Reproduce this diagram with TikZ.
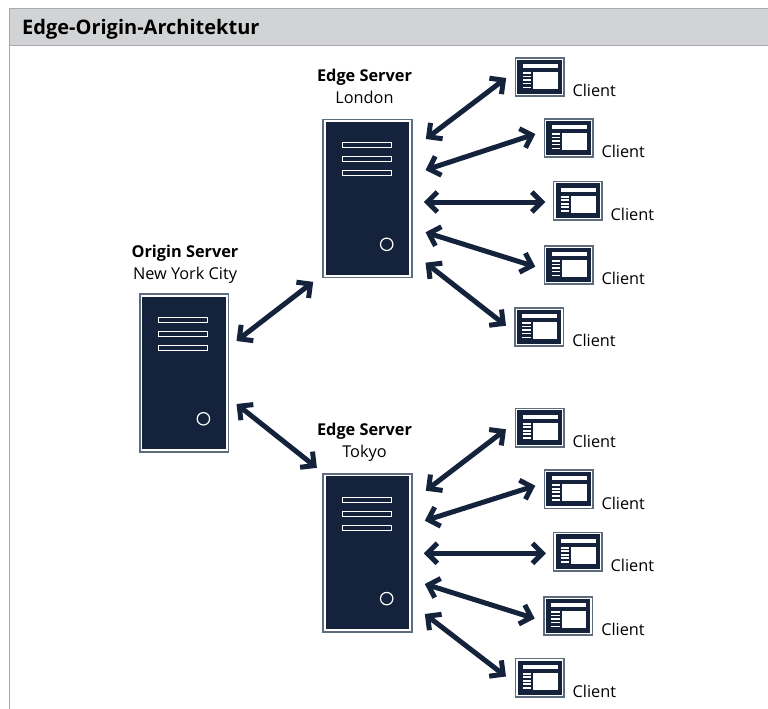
\documentclass[tikz,border=0pt]{standalone}
\usepackage{fontspec}
\setmainfont{Open Sans}
\usetikzlibrary{arrows.meta, positioning}
\definecolor{navy}{HTML}{14233B}
\definecolor{rim}{HTML}{5D6D7E}
\definecolor{headfill}{HTML}{D1D3D4}
\definecolor{headline}{HTML}{A7A9AC}
\tikzset{
	server/.style={fill=navy,draw=white,line width=1.7pt,preaction={draw=rim,line width=5.1pt},minimum width=85.2pt,minimum height=154.5pt,inner sep=0pt},
	clientbox/.style={fill=navy,draw=white,line width=1.2pt,preaction={draw=rim,line width=4.6pt},minimum width=45.4pt,minimum height=35.7pt,inner sep=0pt},
	clientname/.style={font=\fontsize{16.3}{18}\selectfont,inner sep=0pt,anchor=base west},
	place/.style={font=\fontsize{16.3}{22}\selectfont,align=center,inner sep=0pt,anchor=base},
	link/.style={navy,line width=5pt,{Straight Barb[length=10pt,width=20pt]}-{Straight Barb[length=10pt,width=20pt]}},
}
\begin{document}
\begin{tikzpicture}[x=1pt,y=-1pt]
	\def\serverbox#1#2{
		\node[server] at (#2) (#1){};
		\begin{scope}[shift={(#2)}]
		\foreach \y in {-53.2,-39.2,-25.2}
			\draw[white,fill=navy,line width=1pt] (-25.3,\y-2.5) rectangle (23.7,\y+2.5);
		\draw[white,line width=1.2pt] (19.2,45.8) circle (6.2);
		\end{scope}
	}
	\def\clienticon#1#2{
		\node[clientbox] at (#2) (#1){};
		\node[clientname,xshift=9.5pt,yshift=-1.5pt] at (#1.south east) (#1name){Client};
		\begin{scope}[shift={(#2)}]
		\fill[white] (-17,-13) rectangle (18,-9);
		\fill[white] (-6.5,-5) rectangle (18,12);
		\foreach \y in {-5,-1.5,2,5.5,9.5}
			\fill[white] (-17,\y) rectangle (-8.5,\y+1.8);
		\end{scope}
	}
	\useasboundingbox (0,0) rectangle (768,709);
	\fill[headfill] (9.5,8.5) rectangle (768,46);
	\draw[headline,line width=1pt] (768,8.5) -- (9.5,8.5) -- (9.5,709);
	\draw[headline,line width=1pt] (9.5,46) -- (768,46);
	\node[font=\bfseries\fontsize{20}{24}\selectfont,inner sep=0pt,anchor=base west] at (22,35) (title){Edge-Origin-Architektur};

	\node[place] at (364.5,103) (londonname){\textbf{Edge Server}\\London};
	\node[place] at (185,279) (originname){\textbf{Origin Server}\\New York City};
	\node[place] at (364.5,457) (tokyoname){\textbf{Edge Server}\\Tokyo};

	\serverbox{london}{367.5,198.5}
	\serverbox{origin}{184.2,373}
	\serverbox{tokyo}{367.5,552.8}

	\clienticon{la}{539.5,77}
	\clienticon{lb}{568.5,138}
	\clienticon{lc}{577.7,200.7}
	\clienticon{ld}{568.5,265}
	\clienticon{le}{539.3,327}
	\clienticon{ta}{539.5,427.7}
	\clienticon{tb}{568.5,489.2}
	\clienticon{tc}{577.7,551.7}
	\clienticon{td}{568.3,616}
	\clienticon{te}{539.7,677.8}

	\draw[link] ([shift={(8.85,-32)}]origin.east) -- ([shift={(-10.85,5.25)}]london.south west);
	\draw[link] ([shift={(8.85,31)}]origin.east) -- ([shift={(-7.15,-6.85)}]tokyo.north west);

	\draw[link] ([shift={(14.85,-59.5)}]london.east) -- ([shift={(-10,1)}]la.west);
	\draw[link] ([shift={(14.55,-28.5)}]london.east) -- ([shift={(-9.9,-4)}]lb.west);
	\draw[link] ([shift={(12.85,3.5)}]london.east) -- ([shift={(-9.1,1.3)}]lc.west);
	\draw[link] ([shift={(14.55,33.8)}]london.east) -- ([shift={(-9.9,1.7)}]ld.west);
	\draw[link] ([shift={(14.55,64.2)}]london.east) -- ([shift={(-10,-1.3)}]le.west);

	\draw[link] ([shift={(14.85,-62.1)}]tokyo.east) -- ([shift={(-10.2,1.6)}]ta.west);
	\draw[link] ([shift={(13.85,-32.1)}]tokyo.east) -- ([shift={(-9.9,-3.5)}]tb.west);
	\draw[link] ([shift={(12.85,0.5)}]tokyo.east) -- ([shift={(-8.4,1.6)}]tc.west);
	\draw[link] ([shift={(13.85,31.2)}]tokyo.east) -- ([shift={(-10.3,2.5)}]td.west);
	\draw[link] ([shift={(13.85,61.2)}]tokyo.east) -- ([shift={(-10.4,-1.3)}]te.west);
\end{tikzpicture}
\end{document}
